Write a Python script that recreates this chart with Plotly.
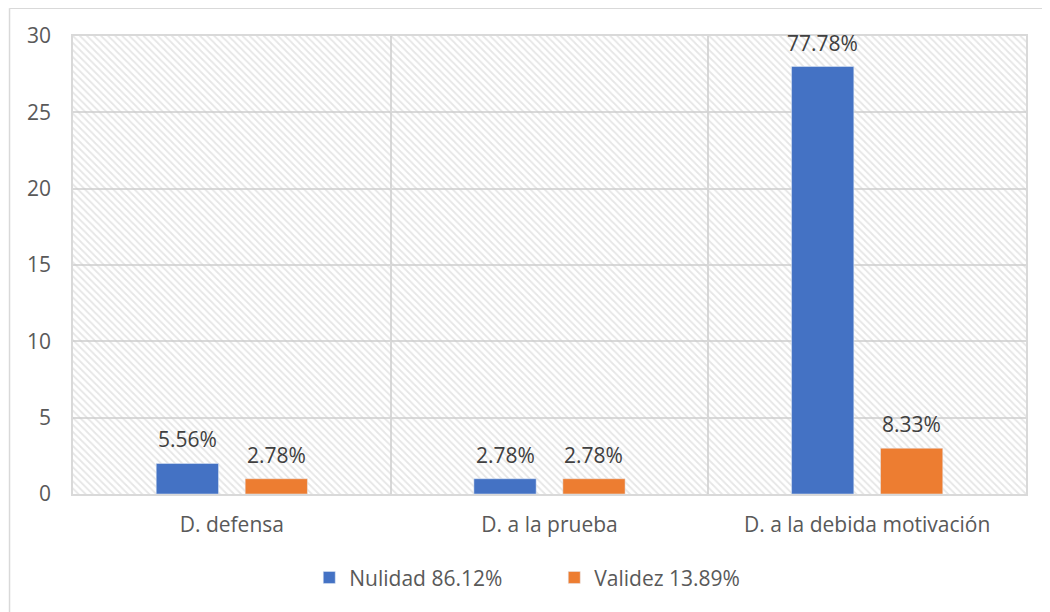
import plotly.graph_objects as go

categories = ["D. defensa", "D. a la prueba", "D. a la debida motivación"]
nulidad = [2, 1, 28]
validez = [1, 1, 3]
nulidad_labels = ["5.56%", "2.78%", "77.78%"]
validez_labels = ["2.78%", "2.78%", "8.33%"]
series_names = ["Nulidad 86.12%", "Validez 13.89%"]
y_ticks = [0, 5, 10, 15, 20, 25, 30]

BLUE = "#4472C4"
ORANGE = "#ED7D31"
GRID = "#d9d9d9"
TXT = "#595959"
LBL = "#404040"
FONT = "Open Sans"
FS = 21
BARGAP = 0.44
BARGROUPGAP = 0.30

xpos = list(range(len(categories)))
xmin, xmax = -0.5, len(categories) - 0.5
ymin, ymax = y_ticks[0], y_ticks[-1]

fig = go.Figure()

# hatched plot-area background on the base (hidden) axes, beneath the bars
fig.add_trace(go.Scatter(
    x=[0, 1, 1, 0, 0], y=[0, 0, 1, 1, 0], xaxis="x", yaxis="y",
    mode="lines", line=dict(width=0), fill="toself",
    fillcolor="rgba(0,0,0,0)",
    fillpattern=dict(shape="\\", fgcolor="#cdcdcd", bgcolor="rgba(0,0,0,0)",
                     size=5, solidity=0.35),
    hoverinfo="skip", showlegend=False,
))

fig.add_trace(go.Bar(x=xpos, y=nulidad, name=series_names[0], marker_color=BLUE,
                     xaxis="x2", yaxis="y2"))
fig.add_trace(go.Bar(x=xpos, y=validez, name=series_names[1], marker_color=ORANGE,
                     xaxis="x2", yaxis="y2"))

offset = (1 - BARGAP) / 4
for vals, labels, sign in [(nulidad, nulidad_labels, -1), (validez, validez_labels, 1)]:
    for xi, v, t in zip(xpos, vals, labels):
        fig.add_annotation(x=xi + sign * offset, y=v, xref="x2", yref="y2", text=t,
                           showarrow=False, yanchor="bottom", yshift=8,
                           font=dict(family=FONT, size=FS, color=LBL))

# outer chart frame (left and top edges visible)
fig.add_shape(type="line", xref="paper", yref="paper",
              x0=-0.0666, x1=-0.0666, y0=-0.4, y1=1.0605,
              line=dict(color=GRID, width=1.5))
fig.add_shape(type="line", xref="paper", yref="paper",
              x0=-0.0666, x1=1.1, y0=1.0605, y1=1.0605,
              line=dict(color=GRID, width=1.5))

fig.update_layout(
    width=1042, height=604,
    margin=dict(l=65, r=24, t=28, b=118),
    paper_bgcolor="white", plot_bgcolor="white",
    barmode="group", bargap=BARGAP, bargroupgap=BARGROUPGAP,
    font=dict(family=FONT, size=FS, color=TXT),
    showlegend=True,
    legend=dict(orientation="h", x=0.505, xanchor="center", y=-0.183, yanchor="middle",
                font=dict(family=FONT, size=FS, color=TXT), entrywidth=200,
                traceorder="normal"),
    xaxis=dict(range=[0, 1], visible=False, fixedrange=True),
    yaxis=dict(range=[0, 1], visible=False, fixedrange=True),
    xaxis2=dict(overlaying="x", range=[xmin, xmax], tickmode="array", tickvals=xpos,
                ticktext=categories, showgrid=False, zeroline=False, showline=True,
                mirror=True, linecolor=GRID, linewidth=1.5, ticks="",
                ticklabelstandoff=11, side="bottom",
                minor=dict(tickmode="array", tickvals=[0.5, 1.5], showgrid=True,
                           gridcolor=GRID, gridwidth=1.5, ticks="")),
    yaxis2=dict(overlaying="y", range=[ymin, ymax], tickmode="array", tickvals=y_ticks,
                showgrid=True, gridcolor=GRID, gridwidth=1.5, zeroline=False,
                showline=True, mirror=True, linecolor=GRID, linewidth=1.5,
                ticks="", ticklabelstandoff=16, side="left"),
)

fig.write_html("out.html")
